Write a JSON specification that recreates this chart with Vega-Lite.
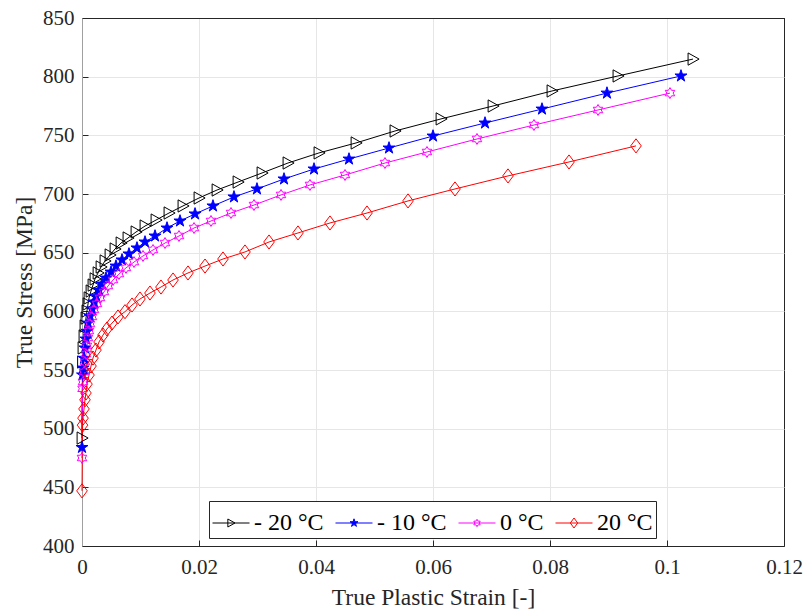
{
  "$schema": "https://vega.github.io/schema/vega-lite/v6.json",
  "width": 702,
  "height": 528,
  "autosize": {"type": "none"},
  "padding": {"left": 82, "top": 18, "right": 22, "bottom": 64},
  "background": "white",
  "config": {
    "view": {"stroke": "#000000", "strokeWidth": 1},
    "font": "Liberation Serif",
    "style": {"guide-label": {"font": "Liberation Serif"}, "guide-title": {"font": "Liberation Serif"}},
    "axis": {
      "labelFont": "Liberation Serif",
      "titleFont": "Liberation Serif",
      "labelColor": "#262626",
      "titleColor": "#262626",
      "titleFontWeight": "normal",
      "labelFontSize": 21,
      "titleFontSize": 23.5,
      "tickColor": "#262626",
      "tickSize": -6,
      "gridWidth": 1,
      "labelFlush": false
    }
  },
  "data": {
    "values": [
      {"series": "- 20 °C", "strain": 0, "stress": 492},
      {"series": "- 20 °C", "strain": 0.00009, "stress": 556.8},
      {"series": "- 20 °C", "strain": 0.00017, "stress": 568.8},
      {"series": "- 20 °C", "strain": 0.00034, "stress": 579},
      {"series": "- 20 °C", "strain": 0.00051, "stress": 587.5},
      {"series": "- 20 °C", "strain": 0.00068, "stress": 594.3},
      {"series": "- 20 °C", "strain": 0.00085, "stress": 600.3},
      {"series": "- 20 °C", "strain": 0.00103, "stress": 606.3},
      {"series": "- 20 °C", "strain": 0.0012, "stress": 611.4},
      {"series": "- 20 °C", "strain": 0.00154, "stress": 617.3},
      {"series": "- 20 °C", "strain": 0.00188, "stress": 622.4},
      {"series": "- 20 °C", "strain": 0.00222, "stress": 627.6},
      {"series": "- 20 °C", "strain": 0.00274, "stress": 632.7},
      {"series": "- 20 °C", "strain": 0.00325, "stress": 637.8},
      {"series": "- 20 °C", "strain": 0.00393, "stress": 642.9},
      {"series": "- 20 °C", "strain": 0.00479, "stress": 648},
      {"series": "- 20 °C", "strain": 0.00564, "stress": 653.1},
      {"series": "- 20 °C", "strain": 0.00667, "stress": 658.2},
      {"series": "- 20 °C", "strain": 0.00786, "stress": 662.5},
      {"series": "- 20 °C", "strain": 0.00923, "stress": 667.6},
      {"series": "- 20 °C", "strain": 0.01077, "stress": 672.7},
      {"series": "- 20 °C", "strain": 0.01265, "stress": 677.8},
      {"series": "- 20 °C", "strain": 0.01487, "stress": 683.8},
      {"series": "- 20 °C", "strain": 0.01726, "stress": 689.8},
      {"series": "- 20 °C", "strain": 0.02, "stress": 696.6},
      {"series": "- 20 °C", "strain": 0.02308, "stress": 703.4},
      {"series": "- 20 °C", "strain": 0.02667, "stress": 710.2},
      {"series": "- 20 °C", "strain": 0.03077, "stress": 717.9},
      {"series": "- 20 °C", "strain": 0.03521, "stress": 726.4},
      {"series": "- 20 °C", "strain": 0.04051, "stress": 735},
      {"series": "- 20 °C", "strain": 0.04684, "stress": 743.5},
      {"series": "- 20 °C", "strain": 0.0535, "stress": 753.7},
      {"series": "- 20 °C", "strain": 0.06137, "stress": 764},
      {"series": "- 20 °C", "strain": 0.07026, "stress": 775},
      {"series": "- 20 °C", "strain": 0.08034, "stress": 787.8},
      {"series": "- 20 °C", "strain": 0.09162, "stress": 800.6},
      {"series": "- 20 °C", "strain": 0.10444, "stress": 815},

      {"series": "- 10 °C", "strain": 0, "stress": 484},
      {"series": "- 10 °C", "strain": 0.00009, "stress": 545.8},
      {"series": "- 10 °C", "strain": 0.00017, "stress": 551.7},
      {"series": "- 10 °C", "strain": 0.00034, "stress": 560},
      {"series": "- 10 °C", "strain": 0.00051, "stress": 568.8},
      {"series": "- 10 °C", "strain": 0.00068, "stress": 576.4},
      {"series": "- 10 °C", "strain": 0.00085, "stress": 583},
      {"series": "- 10 °C", "strain": 0.00103, "stress": 590},
      {"series": "- 10 °C", "strain": 0.00137, "stress": 596},
      {"series": "- 10 °C", "strain": 0.00171, "stress": 602},
      {"series": "- 10 °C", "strain": 0.00205, "stress": 608},
      {"series": "- 10 °C", "strain": 0.00239, "stress": 613},
      {"series": "- 10 °C", "strain": 0.00291, "stress": 618.2},
      {"series": "- 10 °C", "strain": 0.00342, "stress": 623.3},
      {"series": "- 10 °C", "strain": 0.0041, "stress": 628.4},
      {"series": "- 10 °C", "strain": 0.00496, "stress": 633.5},
      {"series": "- 10 °C", "strain": 0.00581, "stress": 638.6},
      {"series": "- 10 °C", "strain": 0.00684, "stress": 643.8},
      {"series": "- 10 °C", "strain": 0.00803, "stress": 648.9},
      {"series": "- 10 °C", "strain": 0.0094, "stress": 654},
      {"series": "- 10 °C", "strain": 0.01077, "stress": 659.1},
      {"series": "- 10 °C", "strain": 0.01248, "stress": 664.2},
      {"series": "- 10 °C", "strain": 0.01453, "stress": 671},
      {"series": "- 10 °C", "strain": 0.01675, "stress": 677},
      {"series": "- 10 °C", "strain": 0.01932, "stress": 683},
      {"series": "- 10 °C", "strain": 0.02239, "stress": 689.8},
      {"series": "- 10 °C", "strain": 0.02598, "stress": 697.5},
      {"series": "- 10 °C", "strain": 0.02991, "stress": 704.3},
      {"series": "- 10 °C", "strain": 0.03453, "stress": 712.8},
      {"series": "- 10 °C", "strain": 0.03966, "stress": 721.3},
      {"series": "- 10 °C", "strain": 0.04564, "stress": 729.8},
      {"series": "- 10 °C", "strain": 0.05248, "stress": 739.2},
      {"series": "- 10 °C", "strain": 0.06, "stress": 749.4},
      {"series": "- 10 °C", "strain": 0.06889, "stress": 760.5},
      {"series": "- 10 °C", "strain": 0.07863, "stress": 772.4},
      {"series": "- 10 °C", "strain": 0.08974, "stress": 786},
      {"series": "- 10 °C", "strain": 0.10239, "stress": 800.6},

      {"series": "0 °C", "strain": 0, "stress": 475},
      {"series": "0 °C", "strain": 0.00009, "stress": 534},
      {"series": "0 °C", "strain": 0.00017, "stress": 539.8},
      {"series": "0 °C", "strain": 0.00034, "stress": 548.3},
      {"series": "0 °C", "strain": 0.00051, "stress": 556.8},
      {"series": "0 °C", "strain": 0.00068, "stress": 563.6},
      {"series": "0 °C", "strain": 0.00085, "stress": 570.5},
      {"series": "0 °C", "strain": 0.00103, "stress": 577.3},
      {"series": "0 °C", "strain": 0.0012, "stress": 583.2},
      {"series": "0 °C", "strain": 0.00137, "stress": 589.2},
      {"series": "0 °C", "strain": 0.00171, "stress": 595.2},
      {"series": "0 °C", "strain": 0.00205, "stress": 601.2},
      {"series": "0 °C", "strain": 0.00256, "stress": 606.3},
      {"series": "0 °C", "strain": 0.00308, "stress": 611.4},
      {"series": "0 °C", "strain": 0.00376, "stress": 616.5},
      {"series": "0 °C", "strain": 0.00444, "stress": 621.6},
      {"series": "0 °C", "strain": 0.0053, "stress": 626.7},
      {"series": "0 °C", "strain": 0.00632, "stress": 631.8},
      {"series": "0 °C", "strain": 0.00752, "stress": 637},
      {"series": "0 °C", "strain": 0.00889, "stress": 642},
      {"series": "0 °C", "strain": 0.01043, "stress": 647.2},
      {"series": "0 °C", "strain": 0.01214, "stress": 652.3},
      {"series": "0 °C", "strain": 0.01419, "stress": 658.2},
      {"series": "0 °C", "strain": 0.01658, "stress": 664.2},
      {"series": "0 °C", "strain": 0.01915, "stress": 671},
      {"series": "0 °C", "strain": 0.02205, "stress": 677},
      {"series": "0 °C", "strain": 0.02547, "stress": 683.8},
      {"series": "0 °C", "strain": 0.0294, "stress": 690.6},
      {"series": "0 °C", "strain": 0.03402, "stress": 699.2},
      {"series": "0 °C", "strain": 0.03897, "stress": 707.7},
      {"series": "0 °C", "strain": 0.04496, "stress": 716.2},
      {"series": "0 °C", "strain": 0.05179, "stress": 726.4},
      {"series": "0 °C", "strain": 0.05897, "stress": 735.8},
      {"series": "0 °C", "strain": 0.06752, "stress": 746.9},
      {"series": "0 °C", "strain": 0.07726, "stress": 758.8},
      {"series": "0 °C", "strain": 0.08821, "stress": 771.6},
      {"series": "0 °C", "strain": 0.10051, "stress": 786},

      {"series": "20 °C", "strain": 0, "stress": 447},
      {"series": "20 °C", "strain": 0.00009, "stress": 503},
      {"series": "20 °C", "strain": 0.00017, "stress": 509},
      {"series": "20 °C", "strain": 0.00034, "stress": 516.8},
      {"series": "20 °C", "strain": 0.00051, "stress": 524.6},
      {"series": "20 °C", "strain": 0.00068, "stress": 530.4},
      {"series": "20 °C", "strain": 0.00085, "stress": 538},
      {"series": "20 °C", "strain": 0.0012, "stress": 545.7},
      {"series": "20 °C", "strain": 0.00154, "stress": 553.4},
      {"series": "20 °C", "strain": 0.00188, "stress": 560.2},
      {"series": "20 °C", "strain": 0.00239, "stress": 567},
      {"series": "20 °C", "strain": 0.00291, "stress": 573.9},
      {"series": "20 °C", "strain": 0.00359, "stress": 579.8},
      {"series": "20 °C", "strain": 0.00427, "stress": 585},
      {"series": "20 °C", "strain": 0.00513, "stress": 590},
      {"series": "20 °C", "strain": 0.00615, "stress": 595.2},
      {"series": "20 °C", "strain": 0.00735, "stress": 599.7},
      {"series": "20 °C", "strain": 0.00855, "stress": 605.4},
      {"series": "20 °C", "strain": 0.00991, "stress": 610.5},
      {"series": "20 °C", "strain": 0.01162, "stress": 615.6},
      {"series": "20 °C", "strain": 0.0135, "stress": 620.7},
      {"series": "20 °C", "strain": 0.01556, "stress": 626.7},
      {"series": "20 °C", "strain": 0.01812, "stress": 632.7},
      {"series": "20 °C", "strain": 0.02103, "stress": 638.6},
      {"series": "20 °C", "strain": 0.0241, "stress": 644.6},
      {"series": "20 °C", "strain": 0.02786, "stress": 650.6},
      {"series": "20 °C", "strain": 0.03197, "stress": 659.1},
      {"series": "20 °C", "strain": 0.03692, "stress": 666.8},
      {"series": "20 °C", "strain": 0.04239, "stress": 675.3},
      {"series": "20 °C", "strain": 0.04872, "stress": 683.8},
      {"series": "20 °C", "strain": 0.05573, "stress": 694.1},
      {"series": "20 °C", "strain": 0.06376, "stress": 704.3},
      {"series": "20 °C", "strain": 0.07282, "stress": 715.4},
      {"series": "20 °C", "strain": 0.08325, "stress": 727.3},
      {"series": "20 °C", "strain": 0.0947, "stress": 741}
    ]
  },
  "encoding": {
    "x": {
      "field": "strain",
      "type": "quantitative",
      "scale": {"domain": [0, 0.12], "nice": false, "zero": false},
      "axis": {
        "title": "True Plastic Strain [-]",
        "values": [0, 0.02, 0.04, 0.06, 0.08, 0.1, 0.12],
        "format": ".2~f",
        "labelFont": "Liberation Serif",
        "titleFont": "Liberation Serif",
        "labelPadding": 16,
        "titlePadding": 8,
        "domainColor": "#262626",
        "gridColor": {"condition": {"test": "datum.value >= 0.119", "value": "#262626"}, "value": "#e6e6e6"}
      }
    },
    "y": {
      "field": "stress",
      "type": "quantitative",
      "scale": {"domain": [400, 850], "nice": false, "zero": false},
      "axis": {
        "title": "True Stress [MPa]",
        "values": [400, 450, 500, 550, 600, 650, 700, 750, 800, 850],
        "labelFont": "Liberation Serif",
        "titleFont": "Liberation Serif",
        "labelPadding": 14,
        "titlePadding": 6,
        "domainColor": "#a0a0a0",
        "gridColor": {"condition": {"test": "datum.value >= 849", "value": "#262626"}, "value": "#e6e6e6"}
      }
    },
    "color": {
      "field": "series",
      "type": "nominal",
      "scale": {"domain": ["- 20 °C", "- 10 °C", "0 °C", "20 °C"], "range": ["#000000", "#0000ff", "#ff00ff", "#ff0000"]},
      "legend": {
        "title": null,
        "orient": "none",
        "legendX": 127,
        "legendY": 483,
        "direction": "horizontal",
        "labelFont": "Liberation Serif",
        "labelFontSize": 24,
        "labelColor": "#000000",
        "labelOffset": 4,
        "symbolSize": 1369,
        "symbolStrokeWidth": 1,
        "symbolOpacity": 1,
        "columnPadding": 9,
        "padding": 3,
        "strokeColor": "#262626",
        "fillColor": "#ffffff",
        "encode": {
          "symbols": {
            "update": {
              "shape": {"signal": "datum.value === '- 20 °C' ? 'M-1,0H1M-0.17,-0.216L0.216,0L-0.17,0.216Z' : datum.value === '- 10 °C' ? 'M-1,0H1M0,-0.227L0.051,-0.07L0.216,-0.07L0.082,0.027L0.133,0.184L0,0.087L-0.133,0.184L-0.082,0.027L-0.216,-0.07L-0.051,-0.07Z' : datum.value === '0 °C' ? 'M-1,0H1M0,-0.2L0.058,-0.1L0.173,-0.1L0.115,0L0.173,0.1L0.058,0.1L0,0.2L-0.058,0.1L-0.173,0.1L-0.115,0L-0.173,-0.1L-0.058,-0.1Z' : 'M-1,0H1M0,-0.27L0.2,0L0,0.27L-0.2,0Z'"},
              "fill": {"signal": "datum.value === '- 10 °C' ? '#0000ff' : 'transparent'"},
              "size": {"value": 1369},
              "strokeWidth": {"value": 1},
              "opacity": {"value": 1}
            }
          }
        }
      }
    }
  },
  "layer": [
    {"mark": {"type": "line", "strokeWidth": 1}, "encoding": {}},
    {
      "transform": [{"filter": "datum.series === '- 20 °C'"}],
      "mark": {"type": "point", "filled": false, "strokeWidth": 1, "opacity": 1, "size": 150, "shape": "M-0.8,-1L1,0L-0.8,1Z"}
    },
    {
      "transform": [{"filter": "datum.series === '- 10 °C'"}],
      "mark": {"type": "point", "filled": false, "fill": "#0000ff", "strokeWidth": 1, "opacity": 1, "size": 160, "shape": "M0,-1L0.225,-0.309L0.951,-0.309L0.363,0.118L0.588,0.809L0,0.382L-0.588,0.809L-0.363,0.118L-0.951,-0.309L-0.225,-0.309Z"}
    },
    {
      "transform": [{"filter": "datum.series === '0 °C'"}],
      "mark": {"type": "point", "filled": false, "strokeWidth": 1, "opacity": 1, "size": 120, "shape": "M0,-1L0.289,-0.5L0.866,-0.5L0.577,0L0.866,0.5L0.289,0.5L0,1L-0.289,0.5L-0.866,0.5L-0.577,0L-0.866,-0.5L-0.289,-0.5Z"}
    },
    {
      "transform": [{"filter": "datum.series === '20 °C'"}],
      "mark": {"type": "point", "filled": false, "strokeWidth": 1, "opacity": 1, "size": 200, "shape": "M0,-1L0.75,0L0,1L-0.75,0Z"}
    }
  ]
}
